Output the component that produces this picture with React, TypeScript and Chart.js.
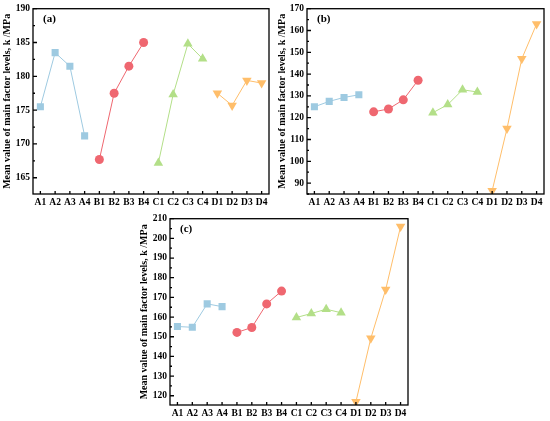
import React, { useEffect, useRef } from 'react';
import Chart from 'chart.js/auto';

const levels = ['A1', 'A2', 'A3', 'A4', 'B1', 'B2', 'B3', 'B4', 'C1', 'C2', 'C3', 'C4', 'D1', 'D2', 'D3', 'D4'];

// panel (a)
const aFactorA = [175.5, 183.5, 181.5, 171.2];
const aFactorB = [167.7, 177.5, 181.5, 185.0];
const aFactorC = [167.2, 177.3, 184.8, 182.6];
const aFactorD = [177.5, 175.7, 179.4, 179.0];
const aTicks = [165, 170, 175, 180, 185, 190];

// panel (b)
const bFactorA = [125.0, 127.5, 129.3, 130.5];
const bFactorB = [122.7, 124.0, 128.2, 137.2];
const bFactorC = [122.3, 126.0, 132.8, 131.8];
const bFactorD = [86.5, 115.0, 147.0, 163.0];
const bTicks = [90, 100, 110, 120, 130, 140, 150, 160, 170];

// panel (c)
const cFactorA = [155.2, 154.8, 166.7, 165.3];
const cFactorB = [152.2, 154.7, 166.7, 173.2];
const cFactorC = [159.8, 161.8, 164.0, 162.2];
const cFactorD = [117.0, 149.2, 174.0, 206.0];
const cTicks = [120, 130, 140, 150, 160, 170, 180, 190, 200, 210];

const SERIF = '"Liberation Serif", "Times New Roman", serif';
const factorColors = ['#9ecae1', '#ef6770', '#b3df88', '#ffbe6a'];
const factorStyles = ['rect', 'circle', 'triangle', 'triangle'];
const factorRadius = [5, 4.5, 5.5, 5.5];
const factorRotation = [0, 0, 0, 180];

// puts a factor's four values into its slot of the 16 levels
const place = (vals: number[], slot: number) =>
    levels.map((_, i) => (Math.floor(i / 4) === slot ? vals[i % 4] : null));

const framePlugin = {
    id: 'frame',
    afterDraw(chart: any, _args: any, opts: any) {
        const { ctx, chartArea: a, scales } = chart;
        ctx.save();
        ctx.strokeStyle = '#000';
        ctx.lineWidth = 1.3;
        ctx.strokeRect(a.left, a.top, a.right - a.left, a.bottom - a.top);
        ctx.beginPath();
        // x ticks, pointing in
        levels.forEach((_, i) => {
            const x = scales.x.getPixelForValue(i);
            ctx.moveTo(x, a.bottom);
            ctx.lineTo(x, a.bottom - 3);
        });
        // y ticks, major and minor, pointing in
        const ticks: number[] = opts.ticks;
        const step = ticks[1] - ticks[0];
        ticks.forEach((v) => {
            const y = scales.y.getPixelForValue(v);
            ctx.moveTo(a.left, y);
            ctx.lineTo(a.left + 4, y);
        });
        for (let v = ticks[0] - step / 2; v <= scales.y.max; v += step) {
            if (v < scales.y.min) continue;
            const y = scales.y.getPixelForValue(v);
            ctx.moveTo(a.left, y);
            ctx.lineTo(a.left + 2, y);
        }
        ctx.stroke();
        ctx.fillStyle = '#000';
        ctx.font = 'bold 11px ' + SERIF;
        ctx.textBaseline = 'middle';
        ctx.fillText(opts.label, a.left + 10, a.top + 10.5);
        ctx.restore();
    },
};

interface PanelProps {
    label: string;
    factors: number[][];
    ticks: number[];
    min: number;
    max: number;
    left: number;
    top: number;
    width: number;
    height: number;
    axisWidth: number;
}

const Panel: React.FC<PanelProps> = ({ label, factors, ticks, min, max, left, top, width, height, axisWidth }) => {
    const canvasRef = useRef<HTMLCanvasElement>(null);

    useEffect(() => {
        if (!canvasRef.current) return;
        const chart = new Chart(canvasRef.current, {
            type: 'line',
            data: {
                labels: levels,
                datasets: factors.map((vals, k) => ({
                    data: place(vals, k),
                    borderColor: factorColors[k],
                    backgroundColor: factorColors[k],
                    borderWidth: 1,
                    pointStyle: factorStyles[k] as any,
                    pointRadius: factorRadius[k],
                    pointRotation: factorRotation[k],
                    pointBorderWidth: 0,
                    pointBackgroundColor: factorColors[k],
                })),
            },
            options: {
                responsive: false,
                animation: false,
                layout: { padding: { top: 7, right: 6, left: 0, bottom: 0 } },
                plugins: {
                    legend: { display: false },
                    tooltip: { enabled: false },
                    frame: { label, ticks },
                } as any,
                scales: {
                    x: {
                        type: 'category',
                        offset: true,
                        grid: { display: false, drawTicks: false },
                        border: { display: false },
                        ticks: {
                            color: '#000',
                            font: { family: SERIF, size: 9.5, weight: 'bold' },
                            padding: 3,
                            maxRotation: 0,
                            minRotation: 0,
                            autoSkip: false,
                        },
                        afterFit: (s: any) => { s.height = 16; },
                    },
                    y: {
                        min,
                        max,
                        grid: { display: false, drawTicks: false },
                        border: { display: false },
                        afterBuildTicks: (s: any) => { s.ticks = ticks.map((v) => ({ value: v })); },
                        ticks: {
                            color: '#000',
                            font: { family: SERIF, size: 9.5, weight: 'bold' },
                            padding: 3,
                        },
                        title: {
                            display: true,
                            text: 'Mean value of main factor levels, k /MPa',
                            color: '#000',
                            font: { family: SERIF, size: 10, weight: 'bold' },
                            padding: { top: 1.5, bottom: 0 },
                        },
                        afterFit: (s: any) => { s.width = axisWidth; },
                    },
                },
            },
            plugins: [framePlugin],
        });
        return () => chart.destroy();
    }, [label, factors, ticks, min, max, axisWidth]);

    return (
        <canvas
            ref={canvasRef}
            width={width}
            height={height}
            style={{ position: 'absolute', left, top, width, height }}
        />
    );
};

const App: React.FC = () => (
    <div style={{ position: 'absolute', left: 0, top: 0, width: 550, height: 421, background: '#fff' }}>
        <Panel label="(a)" factors={[aFactorA, aFactorB, aFactorC, aFactorD]} ticks={aTicks}
            min={162.6} max={190} left={0} top={0} width={275} height={210} axisWidth={33} />
        <Panel label="(b)" factors={[bFactorA, bFactorB, bFactorC, bFactorD]} ticks={bTicks}
            min={85} max={170} left={275} top={0} width={275} height={210} axisWidth={32} />
        <Panel label="(c)" factors={[cFactorA, cFactorB, cFactorC, cFactorD]} ticks={cTicks}
            min={115.3} max={210} left={137} top={210} width={277} height={211} axisWidth={33} />
    </div>
);

export default App;
